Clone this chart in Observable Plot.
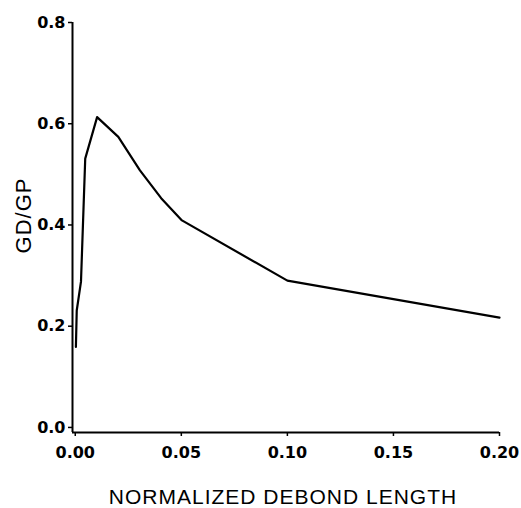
<!DOCTYPE html>
<html>
<head>
<meta charset="utf-8">
<script src="https://cdn.jsdelivr.net/npm/d3@7"></script>
<script src="https://cdn.jsdelivr.net/npm/@observablehq/plot@0.6"></script>
<style>
  html, body { margin: 0; padding: 0; background: #fff; }
  #chart svg { display: block; }
</style>
</head>
<body>
<div id="chart"></div>
<script>
// Data
const debondLength = [0.0003, 0.0007, 0.0027, 0.0047, 0.0103, 0.0203, 0.0305, 0.0405, 0.0503, 0.10, 0.20];
const gdOverGp     = [0.159, 0.231, 0.288, 0.531, 0.613, 0.574, 0.508, 0.453, 0.409, 0.290, 0.217];
const xTicks = [0.00, 0.05, 0.10, 0.15, 0.20];
const yTicks = [0.0, 0.2, 0.4, 0.6, 0.8];
const xLabel = "NORMALIZED DEBOND LENGTH";
const yLabel = "GD/GP";

const data = debondLength.map((x, i) => ({x, y: gdOverGp[i]}));
const tickFont = "'DejaVu Sans', Verdana, sans-serif";

const chart = Plot.plot({
  width: 521, height: 508,
  marginLeft: 72, marginRight: 22, marginTop: 22, marginBottom: 76,
  style: {background: "#fff", color: "#000", fontFamily: "'Liberation Sans', Arial, sans-serif"},
  x: {domain: [-0.0013, 0.2]},
  y: {domain: [-0.01, 0.8]},
  marks: [
    Plot.ruleX([-0.0013], {stroke: "#000", strokeWidth: 2}),
    Plot.ruleY([-0.01], {stroke: "#000", strokeWidth: 2}),
    Plot.axisX(xTicks, {
      tickSize: 4, tickPadding: 10, tickFormat: d3.format(".2f"),
      fontSize: 16, fontWeight: "bold", fontFamily: tickFont, label: null, strokeWidth: 1.5
    }),
    Plot.axisY(yTicks, {
      tickSize: 4, tickPadding: 3, tickFormat: d3.format(".1f"),
      fontSize: 16, fontWeight: "bold", fontFamily: tickFont, label: null, strokeWidth: 1.5
    }),
    Plot.line(data, {x: "x", y: "y", stroke: "#000", strokeWidth: 2.2}),
    Plot.text([yLabel], {
      frameAnchor: "left", textAnchor: "middle", lineAnchor: "middle",
      dx: -49, dy: -12, rotate: -90, fontSize: 22, fill: "#000", text: d => d
    }),
    Plot.text([xLabel], {
      frameAnchor: "bottom", textAnchor: "middle", lineAnchor: "middle",
      dx: -3, dy: 65, fontSize: 21, fill: "#000", text: d => d
    })
  ]
});

chart.querySelectorAll("g[aria-label='text'] text").forEach(t => t.setAttribute("letter-spacing", "1"));
document.getElementById("chart").appendChild(chart);
</script>
</body>
</html>
